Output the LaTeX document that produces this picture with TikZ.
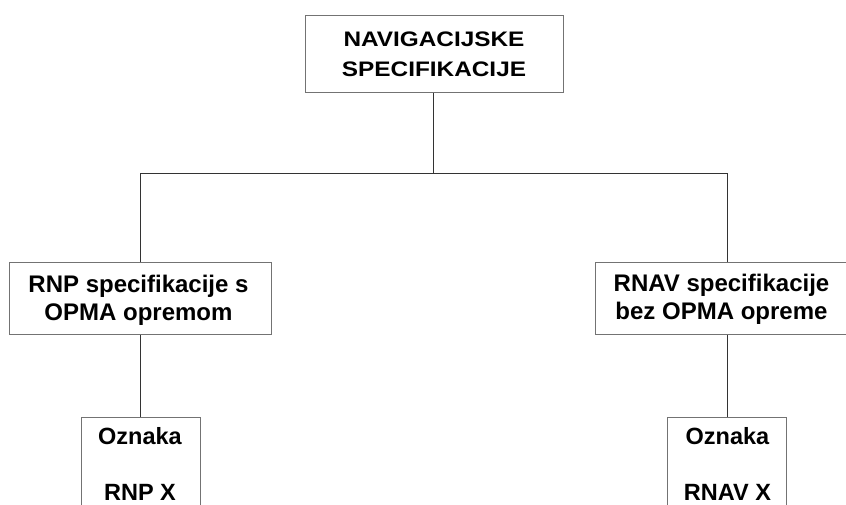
\documentclass[tikz,border=0pt]{standalone}
\usepackage{fontspec}
\setmainfont{Liberation Sans}
\begin{document}
\begin{tikzpicture}[x=1pt,y=-1pt,
  box/.style={draw=black!55, line width=1pt, fill=white, inner sep=0pt},
  ttext/.style={anchor=base, inner sep=0pt, font=\fontsize{21}{25}\selectfont\bfseries},
  mtext/.style={anchor=base, inner sep=0pt, font=\fontsize{24}{28}\selectfont\bfseries},
  btext/.style={anchor=base, inner sep=0pt, font=\fontsize{23.5}{28}\selectfont\bfseries},
  conn/.style={draw=black!80, line width=1pt}]
\clip (0,0) rectangle (846,504);
\fill[white] (0,0) rectangle (846,504);
% boxes
\node[box, minimum width=258pt, minimum height=77pt] (top) at (434,53.5) {};
\node[box, minimum width=262pt, minimum height=72pt] (lmid) at (140,298.5) {};
\node[box, minimum width=256pt, minimum height=72.5pt] (rmid) at (723,298.7) {};
\node[box, minimum width=119pt, minimum height=100pt, anchor=north] (lbot) at (140.5,416.7) {};
\node[box, minimum width=119pt, minimum height=100pt, anchor=north] (rbot) at (727,416.7) {};
% texts
\node[ttext] (t1) at (434,46.7) {\scalebox{1.16}[1]{NAVIGACIJSKE}};
\node[ttext] (t2) at (434,76.7) {\scalebox{1.16}[1]{SPECIFIKACIJE}};
\node[mtext] (l1) at (138.5,292.5) {RNP specifikacije s};
\node[mtext] (l2) at (138.5,320.5) {OPMA opremom};
\node[mtext] (r1) at (721.5,291.5) {RNAV specifikacije};
\node[mtext] (r2) at (721.5,319.5) {bez OPMA opreme};
\node[btext] (lb1) at (140,444.5) {Oznaka};
\node[btext] (lb2) at (140,500.5) {RNP X};
\node[btext] (rb1) at (727.5,444.5) {Oznaka};
\node[btext] (rb2) at (727.5,500.5) {RNAV X};
% connectors
\coordinate (jt) at (433.5,173.3);
\coordinate (jl) at (140.3,173.3);
\coordinate (jr) at (727,173.3);
\draw[conn] (jt |- top.south) -- (jt);
\draw[conn] (jl) -- (jr);
\draw[conn] (jl) -- (jl |- lmid.north);
\draw[conn] (jr) -- (jr |- rmid.north);
\draw[conn] (jl |- lmid.south) -- (jl |- lbot.north);
\draw[conn] (jr |- rmid.south) -- (jr |- rbot.north);
\end{tikzpicture}
\end{document}
